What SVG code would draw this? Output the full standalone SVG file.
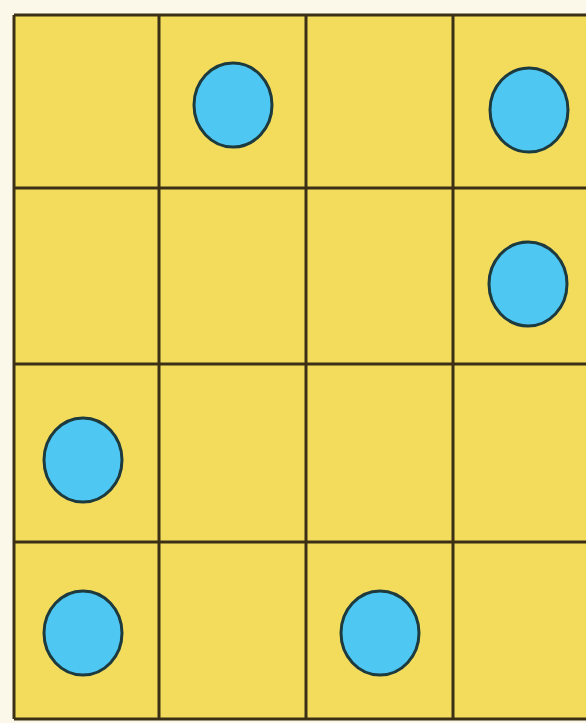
<svg xmlns="http://www.w3.org/2000/svg" width="586" height="723" viewBox="0 0 586 723">
<style>
.cell{fill:#f3dc5c}
.grid{stroke:#3b3016;stroke-width:3;fill:none}
.dot{fill:#4ec7f2;stroke:#1d3a3e;stroke-width:3}
</style>
<rect x="0" y="0" width="586" height="723" fill="#fbf8ea"/>
<rect class="cell" x="14" y="15" width="580" height="704"/>
<g id="grid" class="grid">
<line x1="14" y1="15" x2="14" y2="719"/>
<line x1="159" y1="15" x2="159" y2="719"/>
<line x1="306" y1="15" x2="306" y2="719"/>
<line x1="453" y1="15" x2="453" y2="719"/>
<line x1="14" y1="15" x2="586" y2="15"/>
<line x1="14" y1="188" x2="586" y2="188"/>
<line x1="14" y1="364" x2="586" y2="364"/>
<line x1="14" y1="542" x2="586" y2="542"/>
<line x1="14" y1="719" x2="586" y2="719"/>
</g>
<g id="dot-r1c2"><ellipse class="dot" cx="233" cy="105" rx="39" ry="42"/></g>
<g id="dot-r1c4"><ellipse class="dot" cx="529" cy="110" rx="39" ry="42"/></g>
<g id="dot-r2c4"><ellipse class="dot" cx="528" cy="284" rx="39" ry="42"/></g>
<g id="dot-r3c1"><ellipse class="dot" cx="83" cy="460" rx="39" ry="42"/></g>
<g id="dot-r4c1"><ellipse class="dot" cx="83" cy="633" rx="39" ry="42"/></g>
<g id="dot-r4c3"><ellipse class="dot" cx="380" cy="633" rx="39" ry="42"/></g>
</svg>
